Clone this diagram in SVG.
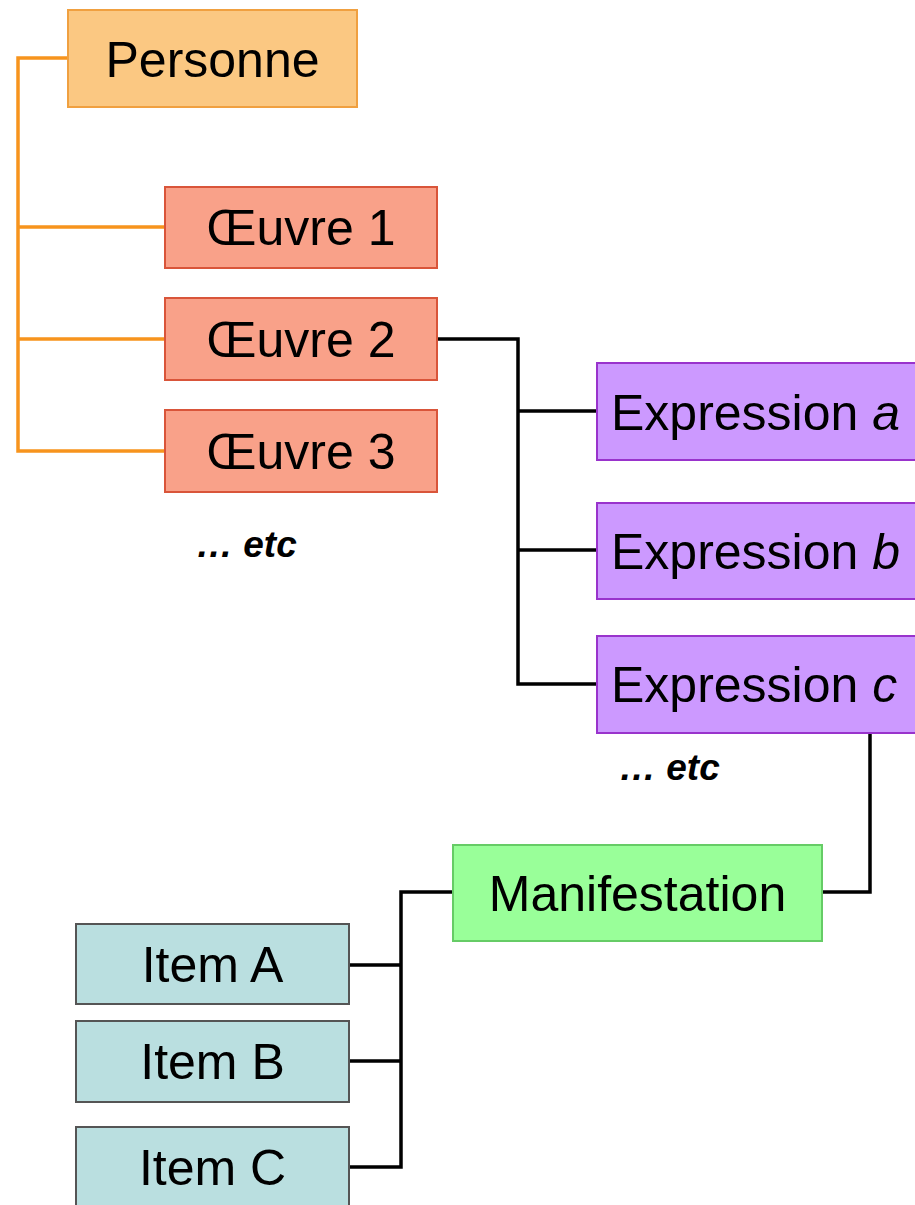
<svg xmlns="http://www.w3.org/2000/svg" width="915" height="1205" viewBox="0 0 915 1205">
<style>
text{font-family:"Liberation Sans",Arial,sans-serif;font-size:50px;fill:#000}
.etc{font-size:37px;font-weight:bold;font-style:italic}
.orange{fill:none;stroke:#F7941D;stroke-width:3.5}
.black{fill:none;stroke:#000;stroke-width:3.5}
.pers{fill:#FBC882;stroke:#F0A040;stroke-width:2}
.oeuv{fill:#F9A189;stroke:#D9553A;stroke-width:2}
.expr{fill:#CC99FF;stroke:#9933CC;stroke-width:2}
.mani{fill:#99FF99;stroke:#66CC66;stroke-width:2}
.item{fill:#BADFE0;stroke:#555;stroke-width:2}
</style>
<rect width="915" height="1205" fill="#fff"/>
<g id="connectors">
<path class="orange" d="M68,58 H18 V451 H165 M18,227 H165 M18,339 H165"/>
<path class="black" d="M437,339 H518 V684 H597 M518,411 H597 M518,550 H597"/>
<path class="black" d="M870,733 V892 H822"/>
<path class="black" d="M453,892 H401 V1167 H349 M401,965 H349 M401,1061 H349"/>
</g>
<g id="personne"><rect class="pers" x="68" y="10" width="289" height="97"/><text x="212.5" y="77" text-anchor="middle">Personne</text></g>
<g id="oeuvre1"><rect class="oeuv" x="165" y="187" width="272" height="81"/><text x="301" y="245" text-anchor="middle">Œuvre 1</text></g>
<g id="oeuvre2"><rect class="oeuv" x="165" y="298" width="272" height="82"/><text x="301" y="357" text-anchor="middle">Œuvre 2</text></g>
<g id="oeuvre3"><rect class="oeuv" x="165" y="410" width="272" height="82"/><text x="301" y="469" text-anchor="middle">Œuvre 3</text></g>
<g id="etc1"><text class="etc" x="196" y="557">… etc</text></g>
<g id="expressionA"><rect class="expr" x="597" y="363" width="330" height="97"/><text x="611" y="430">Expression <tspan font-style="italic">a</tspan></text></g>
<g id="expressionB"><rect class="expr" x="597" y="503" width="330" height="96"/><text x="611" y="569">Expression <tspan font-style="italic">b</tspan></text></g>
<g id="expressionC"><rect class="expr" x="597" y="636" width="330" height="97"/><text x="611" y="702">Expression <tspan font-style="italic">c</tspan></text></g>
<g id="etc2"><text class="etc" x="619" y="780">… etc</text></g>
<g id="manifestation"><rect class="mani" x="453" y="845" width="369" height="96"/><text x="637.5" y="911" text-anchor="middle">Manifestation</text></g>
<g id="itemA"><rect class="item" x="76" y="924" width="273" height="80"/><text x="212.5" y="982" text-anchor="middle">Item A</text></g>
<g id="itemB"><rect class="item" x="76" y="1021" width="273" height="81"/><text x="212.5" y="1079" text-anchor="middle">Item B</text></g>
<g id="itemC"><rect class="item" x="76" y="1127" width="273" height="90"/><text x="212.5" y="1185" text-anchor="middle">Item C</text></g>
</svg>
